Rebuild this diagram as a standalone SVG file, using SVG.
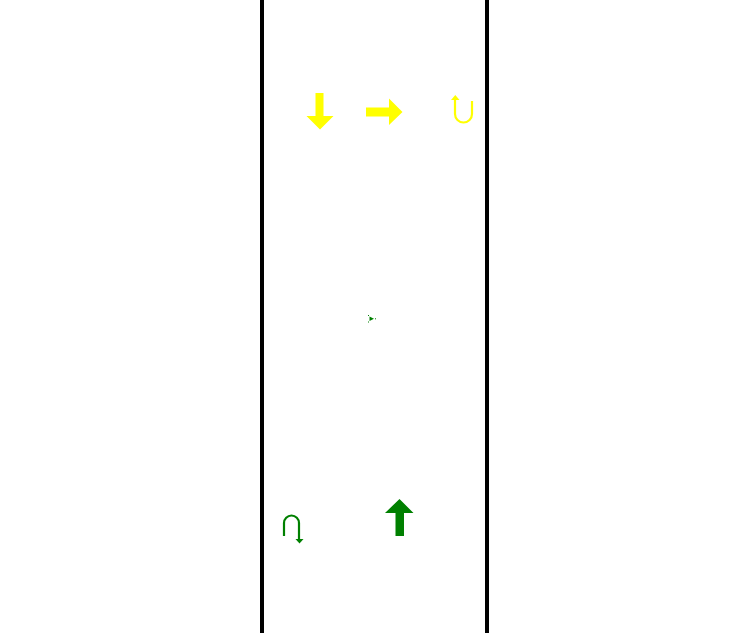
<svg xmlns="http://www.w3.org/2000/svg" width="747" height="633" viewBox="0 0 747 633">
<style>
.edge{stroke:#000;stroke-width:4;fill:none}
.y{fill:#ffff00}
.g{fill:#008000}
.ys{stroke:#ffff00;stroke-width:2.2;fill:none}
.gs{stroke:#008000;stroke-width:2.2;fill:none}
</style>
<rect width="747" height="633" fill="#fff"/>
<g id="road">
<line class="edge" x1="262" y1="0" x2="262" y2="633"/>
<line class="edge" x1="487" y1="0" x2="487" y2="633"/>
</g>
<g id="yellow-down" class="y">
<polygon points="315.5,93 323.5,93 323.5,116 333.5,116 320,129.5 306.5,116 315.5,116"/>
</g>
<g id="yellow-right" class="y">
<polygon points="366,107.5 389,107.5 389,98.5 402.5,112 389,125 389,116.5 366,116.5"/>
</g>
<g id="yellow-uturn">
<path class="ys" d="M455,99 V114 A8.5 8.5 0 0 0 472 114 V101"/>
<polygon class="y" points="451,100 459.5,100 455.3,95"/>
</g>
<g id="green-up" class="g">
<polygon points="399.5,499 413.5,513 404,513 404,536 395.5,536 395.5,513 385,513"/>
</g>
<g id="green-uturn">
<path class="gs" d="M284,536 V523 A7.5 7.5 0 0 1 299 523 V539.5"/>
<polygon class="g" points="295.5,539 303.5,539 299.5,543.5"/>
</g>
<g id="marker" class="g">
<polygon points="369.5,316.5 374,318.7 369.5,321"/>
<rect x="368" y="315" width="1" height="1"/>
<rect x="368" y="321.5" width="1" height="1"/>
<rect x="375" y="318.3" width="1" height="1"/>
</g>
</svg>
